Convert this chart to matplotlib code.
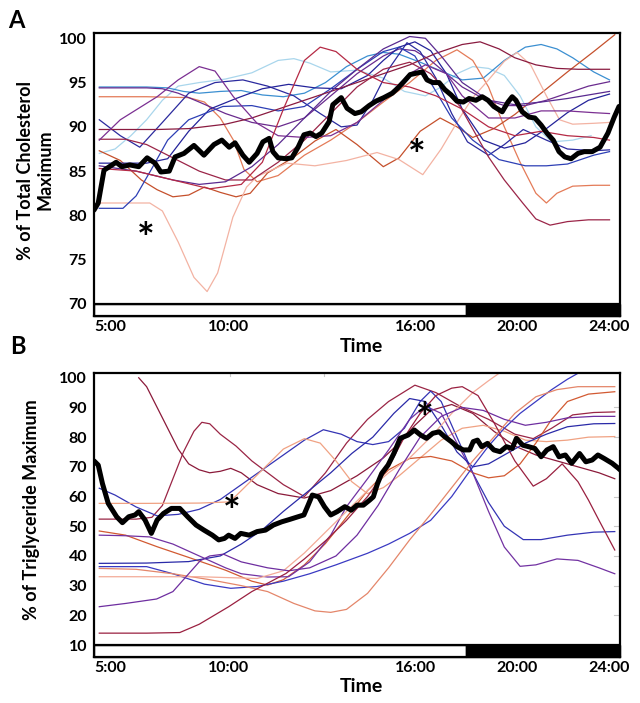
import matplotlib
matplotlib.use("Agg")
import matplotlib.pyplot as plt
from matplotlib.patches import Rectangle

plt.rcParams['font.family'] = ['Lato', 'DejaVu Sans']
plt.rcParams['font.weight'] = 'bold'

# ---------------- shared axis data (x = % of the recording window) -------------
tick_pos = [3.0, 25.5, 61.2, 80.4, 97.9]
tick_labels = ['5:00', '10:00', '16:00', '20:00', '24:00']
dark_start = 70.7   # lights-off bar start

# ---------------- Panel A: cholesterol ----------------
chol_yticks = [70, 75, 80, 85, 90, 95, 100]

chol_mblue_t = [1, 10, 14, 17, 20, 24, 28, 32, 36, 40, 44, 48, 52, 55, 58, 62, 66, 70, 74, 78, 82, 85, 88, 91, 95, 98]
chol_mblue_v = [94.5, 94.5, 94.4, 94.0, 93.8, 94.0, 94.1, 93.6, 93.4, 93.8, 95.0, 96.8, 98.0, 98.4, 98.2, 97.3, 96.3, 95.3, 95.5, 97.5, 99.0, 99.3, 98.8, 97.8, 96.2, 95.3]

chol_lblue_t = [1, 4, 7, 10, 13, 16, 20, 25, 30, 35, 38, 41, 45, 50, 55, 59, 63, 66, 69, 72, 75, 78, 81, 84, 87, 91, 94.5]
chol_lblue_v = [87.0, 87.5, 89.0, 90.8, 93.0, 94.6, 95.0, 95.4, 96.1, 97.5, 97.7, 97.2, 96.2, 96.4, 95.5, 94.0, 93.5, 94.5, 96.0, 96.8, 96.6, 95.8, 93.5, 90.0, 88.3, 88.5, 89.0]

chol_orange_t = [1, 10, 18, 21, 24, 26.5, 28.5, 31, 35, 40, 45, 50, 55, 60, 65, 69, 72, 75, 78, 81, 84, 86, 88, 91, 95, 98]
chol_orange_v = [93.4, 93.4, 93.3, 92.8, 91.0, 88.5, 85.2, 83.8, 84.5, 86.8, 88.5, 90.5, 92.8, 95.0, 97.5, 98.7, 97.5, 94.5, 90.0, 86.0, 82.5, 81.4, 82.5, 83.3, 83.4, 83.4]

chol_dkorange_t = [1, 5, 9, 12, 15, 18, 21, 24, 27, 29.7, 33, 37.8, 42, 46, 50, 55, 58, 62, 65.8, 69, 72, 76, 80, 85, 90, 95, 99]
chol_dkorange_v = [87.3, 86.2, 84.0, 82.9, 82.1, 82.3, 83.2, 82.6, 82.1, 82.5, 84.8, 86.5, 88.4, 89.7, 88.0, 85.5, 86.5, 89.5, 91.0, 90.0, 88.8, 89.8, 91.4, 93.8, 96.2, 98.5, 100.4]

chol_lsalmon_t = [1, 10.6, 13, 16, 19, 21.5, 23.5, 26.4, 29, 31, 36.7, 42, 48, 53.8, 58, 62.5, 66, 69.6, 72, 75, 78, 80.4, 83, 86, 88.5, 91, 95, 98]
chol_lsalmon_v = [81.4, 81.4, 80.5, 77.0, 73.0, 71.4, 73.5, 79.8, 83.2, 84.4, 85.9, 85.6, 86.2, 87.1, 86.3, 84.6, 87.5, 91.1, 93.3, 95.3, 97.4, 98.4, 97.0, 93.5, 90.8, 90.3, 90.4, 90.5]

chol_purple1_t = [1, 10, 13, 16, 20, 25, 30, 35, 40, 45, 50, 55, 58, 61, 64, 67, 70, 74, 78, 82, 86, 90, 94, 98]
chol_purple1_v = [94.4, 94.4, 94.3, 93.8, 92.8, 91.5, 90.5, 90.0, 91.0, 93.5, 96.0, 98.0, 98.8, 98.6, 97.5, 96.0, 94.5, 93.2, 92.4, 92.4, 93.0, 93.8, 94.6, 95.1]

chol_dkblue1_t = [1, 5, 8.7, 13, 18, 23, 28.3, 33, 38, 43, 47, 50, 53, 56, 59.5, 62, 65, 68, 71, 75, 78, 81.6, 86, 90, 95, 98]
chol_dkblue1_v = [90.8, 89.0, 87.7, 90.5, 93.8, 95.0, 95.3, 94.6, 93.5, 91.5, 90.0, 90.2, 93.0, 96.5, 99.5, 98.5, 95.5, 91.5, 88.3, 86.8, 88.0, 89.7, 88.5, 87.5, 87.3, 87.4]

chol_dkblue2_t = [1, 10, 14, 18, 22, 27, 32, 37, 42, 47, 52, 55, 58, 61, 64, 67, 70, 74, 78, 82, 86, 90, 94, 98]
chol_dkblue2_v = [85.9, 85.9, 86.4, 89.5, 92.0, 93.2, 94.3, 94.8, 94.4, 94.3, 95.8, 97.5, 99.0, 99.6, 98.6, 96.0, 92.0, 88.5, 87.6, 88.2, 89.8, 91.6, 93.0, 93.7]

chol_dkblue3_t = [1, 5.5, 8, 11, 14, 18, 24.5, 30, 35, 40, 45, 50, 55, 58, 61, 64, 68, 72, 77, 82, 86, 90, 95, 98]
chol_dkblue3_v = [80.8, 80.8, 82.2, 85.3, 88.5, 90.8, 92.3, 92.4, 91.8, 92.3, 94.3, 96.5, 98.5, 99.0, 98.0, 95.0, 91.0, 88.5, 86.3, 85.6, 85.6, 85.8, 86.8, 87.2]

chol_dkred1_t = [1, 12, 18, 25, 30, 35, 40, 45, 50, 55, 60, 65, 70, 73.4, 77, 80, 84, 88, 92, 95, 98]
chol_dkred1_v = [89.7, 89.7, 89.8, 90.3, 91.0, 92.0, 93.0, 94.0, 95.0, 96.0, 97.0, 98.3, 99.3, 99.6, 98.8, 97.8, 97.0, 96.6, 96.5, 96.5, 96.5]

chol_dkred2_t = [1, 6, 10, 15, 20, 25, 30, 35, 40, 45, 50, 55, 60, 64, 69.6, 75, 78, 81.5, 84, 86.7, 90, 94, 98]
chol_dkred2_v = [88.6, 88.6, 88.0, 86.5, 85.0, 84.0, 84.0, 86.0, 88.5, 91.5, 94.5, 96.5, 97.3, 96.0, 92.3, 86.6, 84.0, 81.4, 79.6, 78.9, 79.3, 79.5, 79.5]

chol_purple2_t = [1, 5, 12, 16, 20, 23, 26.5, 31, 35, 40, 45, 50, 55, 60, 63, 67, 70, 75, 80, 85, 90, 95, 98]
chol_purple2_v = [88.5, 90.8, 93.4, 95.3, 96.8, 96.3, 93.4, 90.4, 89.0, 88.8, 89.0, 90.5, 93.0, 96.0, 97.0, 96.0, 93.5, 91.0, 91.0, 91.8, 91.8, 91.6, 91.5]

chol_purple3_t = [1, 8, 15, 20, 25, 30, 35, 40, 45, 50, 55, 60, 63, 66, 70, 75, 80, 85, 90, 95, 98]
chol_purple3_v = [85.6, 85.0, 84.0, 83.5, 83.8, 85.5, 88.0, 91.0, 94.0, 96.5, 98.8, 100.2, 100.0, 98.0, 95.0, 93.0, 92.5, 92.8, 93.2, 93.7, 94.0]

chol_red_t = [1, 8, 15, 22, 28, 32, 36, 40, 43, 46, 50, 55, 60, 65, 70, 75, 80, 85, 90, 95, 98]
chol_red_v = [85.3, 85.0, 84.0, 83.0, 83.5, 86.0, 92.0, 97.5, 99.0, 98.5, 96.5, 95.0, 94.5, 93.5, 92.0, 90.0, 89.0, 89.5, 89.0, 88.8, 88.5]

chol_mean_t = [0, 0.8, 1.9, 4.2, 5.3, 6.8, 8.5, 10.1, 11.6, 12.7, 14.3, 15.4, 17.1, 19.0, 20.9, 22.8, 24.3, 25.7, 26.8, 28.3, 29.5, 31.0, 32.1, 33.3, 34.0, 35.0, 36.5, 37.6, 38.8, 39.9, 41.1, 42.2, 43.3, 44.7, 45.4, 47.0, 48.1, 49.6, 50.8, 52.3, 53.6, 55.1, 56.7, 57.8, 58.9, 60.1, 61.6, 62.4, 63.3, 64.4, 65.6, 66.7, 67.9, 69.0, 70.2, 71.3, 72.6, 73.8, 74.9, 76.0, 77.6, 78.7, 79.5, 80.2, 81.4, 82.7, 83.8, 85.0, 86.1, 87.3, 88.4, 89.5, 90.7, 92.0, 93.2, 94.7, 96.2, 97.7, 98.9, 99.8]
chol_mean_v = [80.6, 81.4, 85.1, 86.0, 85.5, 85.7, 85.5, 86.5, 85.9, 84.9, 85.0, 86.6, 87.0, 87.9, 86.8, 88.0, 88.5, 87.7, 88.2, 86.8, 86.0, 87.0, 88.3, 88.7, 87.2, 86.5, 86.4, 86.5, 87.7, 89.1, 89.3, 88.9, 89.3, 90.6, 92.5, 93.3, 92.1, 91.5, 91.7, 92.4, 92.9, 93.3, 93.8, 94.4, 95.1, 95.9, 96.1, 96.2, 95.3, 95.0, 95.0, 94.2, 93.6, 92.9, 92.8, 93.2, 93.0, 93.4, 93.0, 92.3, 91.7, 92.8, 93.4, 93.0, 91.7, 91.1, 91.0, 90.2, 89.3, 88.5, 87.2, 86.6, 86.4, 87.0, 87.2, 87.2, 87.7, 89.3, 91.1, 92.3]

chol_series = [
    (chol_lblue_t, chol_lblue_v, '#a9d6ec'),
    (chol_mblue_t, chol_mblue_v, '#3b8fd1'),
    (chol_orange_t, chol_orange_v, '#e47b58'),
    (chol_dkorange_t, chol_dkorange_v, '#c5502c'),
    (chol_lsalmon_t, chol_lsalmon_v, '#f3b3a3'),
    (chol_purple1_t, chol_purple1_v, '#6a2b8e'),
    (chol_dkblue1_t, chol_dkblue1_v, '#2b2a9e'),
    (chol_dkblue2_t, chol_dkblue2_v, '#24239a'),
    (chol_dkblue3_t, chol_dkblue3_v, '#2d3fb5'),
    (chol_dkred1_t, chol_dkred1_v, '#8a1b40'),
    (chol_dkred2_t, chol_dkred2_v, '#9b2548'),
    (chol_purple2_t, chol_purple2_v, '#7b2f92'),
    (chol_purple3_t, chol_purple3_v, '#5a2a90'),
    (chol_red_t, chol_red_v, '#b52a45'),
]
chol_stars = [(9.9, 78.2), (61.4, 87.6)]

# ---------------- Panel B: triglyceride ----------------
tg_yticks = [10, 20, 30, 40, 50, 60, 70, 80, 90, 100]

tg_dkredtop_t = [8.5, 10, 12, 14, 16, 18, 20, 22, 24, 26, 28, 31, 35, 40, 45, 50, 55, 58, 61, 64, 68, 72, 76, 80, 84, 88, 92, 96, 99]
tg_dkredtop_v = [100, 97, 90, 83, 76, 71, 69, 68, 68.5, 69.5, 68, 64, 61, 59.5, 62, 67, 73, 78, 84, 89, 91, 88, 82, 77, 74, 72, 70, 68, 66]

tg_dkred52_t = [1, 8, 11, 13, 15, 17, 19, 20.5, 22, 24, 27, 30, 33, 36, 40, 44, 48, 52, 56, 61, 65, 70, 75, 80, 83.5, 87, 91, 95, 99]
tg_dkred52_v = [52.4, 52.4, 53, 57, 66, 75, 82, 85, 84.5, 81, 77, 72, 68, 64, 60, 68, 78, 86, 92, 97.5, 95, 90, 86, 81, 79.5, 83, 87.5, 88.3, 88.5]

tg_blue62_t = [1, 4, 8, 12, 16, 20, 24, 28, 32, 36, 40, 43.6, 47, 50, 53, 56, 59, 62, 64, 66, 69, 72, 75, 78, 81.6, 85, 90, 95, 99]
tg_blue62_v = [62.8, 60.5, 56.5, 53.5, 54, 55.7, 59, 64, 69, 74, 79, 82.5, 81, 78.5, 77.5, 78.5, 83, 92, 95.5, 92, 80, 68, 58, 50, 45.5, 45.5, 47, 48, 48.2]

tg_salmon57_t = [1, 10, 20, 25.8, 28, 32, 36, 40, 43, 46, 49, 52, 55, 58, 62, 66, 70, 74, 78, 82, 86, 90, 94, 99]
tg_salmon57_v = [57.7, 57.7, 57.8, 58.2, 62, 69, 76, 79.5, 78, 72, 65, 61, 63, 67, 73, 79, 83, 84, 82, 79, 78.5, 79, 80, 80.2]

tg_orange48_t = [1, 6, 12, 18, 25, 30, 33, 36, 40, 44, 48, 52, 56, 60, 64, 68, 72, 75, 78, 81, 84, 87, 90, 94, 99]
tg_orange48_v = [48.4, 47, 43.1, 39.5, 35.2, 31.5, 30.2, 32, 37, 44.2, 53, 62, 69, 72.8, 73.5, 72, 68, 66.3, 67, 71, 78, 86, 92, 94.5, 95.3]

tg_purple47_t = [1, 6, 10.6, 15, 20, 25, 28, 33, 37, 41, 45, 48, 52, 56, 60, 63, 66, 69, 72, 75, 78, 81, 84, 88, 92, 96, 99]
tg_purple47_v = [47, 46.8, 46.4, 44, 40, 36, 34, 32.9, 33, 38, 47, 56.6, 66, 75.7, 86, 90.5, 88, 78, 68, 55, 43, 36.5, 37, 39, 38.5, 36, 34]

tg_blue37_t = [1, 10, 18, 24, 28, 32, 36, 41, 45, 49, 53, 57, 60, 63, 66, 69, 72, 75, 78, 82, 86, 90, 95, 99]
tg_blue37_v = [37.5, 37.6, 38.1, 40, 44, 48.8, 55, 62.2, 68, 74.5, 80, 88, 93, 92, 84, 75, 70, 71, 74, 78, 81, 83.5, 84.5, 84.6]

tg_blue36_t = [1, 10, 15, 21, 26, 31, 36, 41, 46, 52, 56, 60, 64, 68, 72, 75, 78, 81, 84, 87, 90, 92]
tg_blue36_v = [36.4, 36.4, 34, 30.5, 29.1, 29.7, 31.5, 34, 37, 40.9, 44, 47.6, 52, 60, 70, 77, 83, 88, 92, 96, 99.5, 101.5]

tg_orange35_t = [1, 8, 15, 22, 28, 33, 38, 42, 45, 48, 52, 56, 60, 64, 68, 72, 76, 80, 84, 88, 92, 96, 99]
tg_orange35_v = [35.8, 35.5, 34, 32, 30, 28, 24, 21.5, 21, 22, 27.4, 36, 45.4, 54, 63, 72, 80, 88, 93.6, 96, 97, 97, 97]

tg_salmon33_t = [1, 10, 20, 31, 36, 40, 44, 48, 52, 56, 60, 64, 68, 72, 75, 77]
tg_salmon33_v = [33, 33, 33, 32.4, 35, 41, 48, 55, 62, 68, 73, 80, 88, 95, 99, 101.5]

tg_purple23_t = [1, 6, 11.9, 15, 18, 20.2, 22, 24.6, 28, 33, 37, 41, 46, 50, 54, 58, 62, 66, 70, 74, 78, 82, 86, 90, 95, 99]
tg_purple23_v = [22.9, 24, 25.5, 28, 34, 38.4, 40, 40.6, 38, 36, 35, 36, 40, 47, 57, 69, 80, 87, 90, 89, 86, 84, 85, 86.5, 87, 87]

tg_dkred14_t = [1, 10, 16.3, 20, 25.6, 30, 36.5, 40, 44.2, 48, 52, 56, 59, 62, 65, 68, 70, 73, 76, 80, 83.5, 86, 89, 92, 94, 96, 99]
tg_dkred14_v = [14, 14, 14.2, 17, 22.9, 28, 34.1, 39, 45.4, 52, 60, 70, 80, 88, 94, 96.5, 97, 94, 85, 72, 63.5, 66, 71, 65, 58.8, 52, 42]

tg_mean_t = [0, 0.8, 1.6, 2.7, 4.3, 5.4, 6.6, 7.8, 8.5, 9.7, 10.9, 12.0, 13.2, 14.7, 16.3, 17.8, 19.4, 20.9, 22.5, 23.7, 24.8, 25.6, 26.8, 27.9, 29.5, 31.0, 32.6, 34.1, 35.7, 37.2, 38.8, 39.9, 40.7, 41.5, 42.7, 43.8, 45.0, 46.2, 47.7, 48.9, 50.0, 51.2, 52.4, 53.1, 53.9, 54.7, 55.9, 57.0, 58.2, 59.7, 60.9, 62.1, 63.2, 64.4, 65.6, 66.7, 67.9, 69.0, 70.2, 71.4, 72.1, 72.9, 73.7, 74.8, 76.0, 77.2, 78.4, 79.5, 80.3, 81.5, 82.6, 83.8, 85.0, 86.1, 87.3, 88.4, 89.6, 90.8, 92.3, 93.5, 94.7, 95.8, 97.0, 98.5, 99.7, 100]
tg_mean_v = [72.0, 70.6, 64.4, 57.7, 53.2, 51.2, 53.2, 53.8, 54.9, 52.1, 47.6, 52.1, 54.3, 56.0, 56.0, 53.2, 50.4, 48.7, 47.0, 45.4, 45.9, 47.0, 45.9, 47.6, 47.0, 48.2, 48.7, 50.4, 51.5, 52.3, 53.2, 53.8, 57.1, 60.5, 59.9, 56.6, 53.8, 54.9, 56.6, 55.4, 57.1, 57.1, 58.8, 59.9, 64.4, 67.8, 70.6, 74.5, 79.6, 80.7, 82.4, 80.7, 79.6, 81.3, 81.8, 80.1, 78.5, 76.8, 75.7, 75.7, 78.5, 79.0, 76.8, 77.9, 75.7, 75.1, 76.8, 76.2, 79.6, 77.3, 76.8, 76.2, 73.4, 75.7, 76.8, 73.4, 74.0, 71.2, 74.5, 71.7, 72.3, 74.0, 72.8, 71.2, 69.5, 69.0]

tg_series = [
    (tg_dkredtop_t, tg_dkredtop_v, '#8b1a3a'),
    (tg_dkred52_t, tg_dkred52_v, '#9a2545'),
    (tg_blue62_t, tg_blue62_v, '#3434b4'),
    (tg_salmon57_t, tg_salmon57_v, '#f0a283'),
    (tg_orange48_t, tg_orange48_v, '#d25a32'),
    (tg_purple47_t, tg_purple47_v, '#7232a2'),
    (tg_blue37_t, tg_blue37_v, '#2a2aa8'),
    (tg_blue36_t, tg_blue36_v, '#3a3ac2'),
    (tg_orange35_t, tg_orange35_v, '#e4866a'),
    (tg_salmon33_t, tg_salmon33_v, '#f3ab98'),
    (tg_purple23_t, tg_purple23_v, '#6e2ea0'),
    (tg_dkred14_t, tg_dkred14_v, '#9a2040'),
]
tg_stars = [(26.2, 57.5), (62.9, 88.8)]
tg_minor_x = [25.9, 43.7]

# ---------------- drawing ----------------
fig = plt.figure(figsize=(6.4, 7.03), dpi=100)
fig.patch.set_facecolor('white')

axA = fig.add_axes([0.1469, 0.5505, 0.8219, 0.4026])
axB = fig.add_axes([0.1469, 0.0654, 0.8219, 0.4040])


def draw_panel(ax, series, mean_t, mean_v, stars, yticks, ylo, yhi, base):
    for t, v, c in series:
        ax.plot(t, v, color=c, lw=0.9, solid_joinstyle='round', zorder=2)
    ax.plot(mean_t, mean_v, color='black', lw=3.6, solid_joinstyle='round',
            solid_capstyle='round', zorder=4)
    for sx, sy in stars:
        # asterisk glyph sits high in its box; nudge it down 10 px to centre it
        ax.annotate('*', (sx, sy), xytext=(0, -10), textcoords='offset pixels',
                    fontsize=30, fontweight='bold', ha='center', va='center',
                    color='black', zorder=5)
    ax.set_xlim(0, 100)
    ax.set_ylim(ylo, yhi)
    # light/dark bar under the baseline
    ax.add_patch(Rectangle((0, ylo), dark_start, base - ylo, facecolor='white',
                           edgecolor='black', lw=1.0, zorder=6, clip_on=False))
    ax.add_patch(Rectangle((dark_start, ylo), 100 - dark_start, base - ylo,
                           facecolor='black', edgecolor='black', lw=1.0, zorder=6,
                           clip_on=False))
    ax.axhline(base, color='black', lw=1.6, zorder=7)
    ax.set_yticks(yticks)
    ax.set_yticklabels([str(y) for y in yticks], fontsize=11.5, fontweight='bold')
    ax.set_xticks(tick_pos)
    ax.set_xticklabels(tick_labels, fontsize=11.5, fontweight='bold')
    ax.tick_params(axis='both', length=0)
    ax.tick_params(axis='y', pad=5)
    ax.tick_params(axis='x', pad=3)
    for s in ax.spines.values():
        s.set_linewidth(1.6)
        s.set_color('black')
        s.set_zorder(8)


draw_panel(axA, chol_series, chol_mean_t, chol_mean_v, chol_stars, chol_yticks, 68.64, 100.6, 70)
draw_panel(axB, tg_series, tg_mean_t, tg_mean_v, tg_stars, tg_yticks, 5.96, 101.6, 10)

# faint inner grid ticks on panel B (right and top)
for yv in tg_yticks[1:-1]:
    axB.plot([98.8, 100], [yv, yv], color='#c8c8c8', lw=0.8, zorder=1)
for xv in tg_minor_x:
    axB.plot([xv, xv], [100.6, 101.6], color='#c8c8c8', lw=0.8, zorder=1)

fig.text(16 / 640, 1 - 20 / 703, 'A', fontsize=17, fontweight='bold', ha='center', va='center')
fig.text(18 / 640, 1 - 347 / 703, 'B', fontsize=17, fontweight='bold', ha='center', va='center')

fig.text(35 / 640, 1 - 170 / 703, '% of Total Cholesterol\nMaximum', rotation=90,
         fontsize=13, fontweight='bold', ha='center', va='center',
         multialignment='center', linespacing=1.15)
fig.text(32 / 640, 1 - 510 / 703, '% of Triglyceride Maximum', rotation=90,
         fontsize=13, fontweight='bold', ha='center', va='center')

fig.text(361 / 640, 1 - 347 / 703, 'Time', fontsize=14, fontweight='bold', ha='center', va='center')
fig.text(361 / 640, 1 - 687 / 703, 'Time', fontsize=14, fontweight='bold', ha='center', va='center')

fig.savefig('out.png', dpi=100, facecolor='white')
